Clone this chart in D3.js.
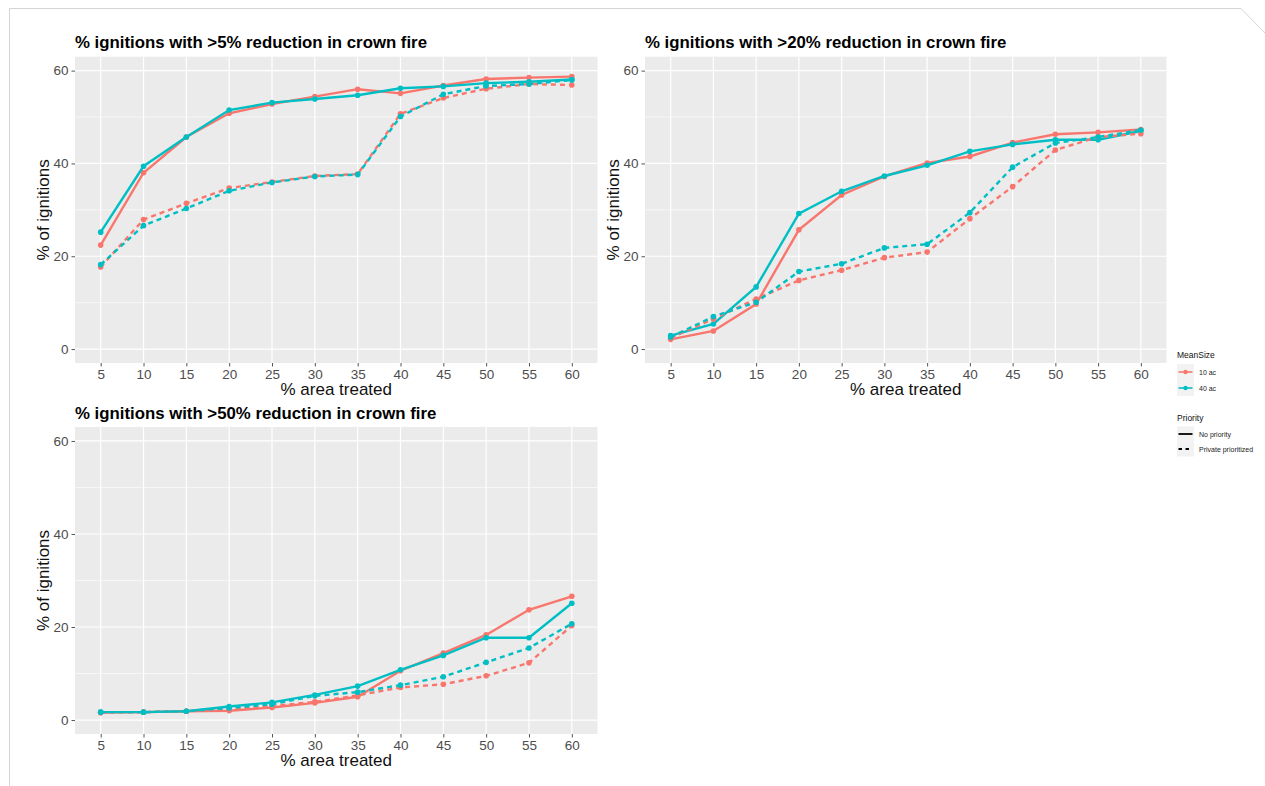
<!DOCTYPE html>
<html><head><meta charset="utf-8">
<script src="https://cdn.jsdelivr.net/npm/d3@7"></script>
<style>body{margin:0;background:#fff}svg{display:block}</style>
</head><body><svg id="c" width="1265" height="786"></svg>
<script>
// ---- data ----
const areaTreated = ["5","10","15","20","25","30","35","40","45","50","55","60"];
const yTicks = [0, 20, 40, 60];
const sizeLevels = ["10 ac", "40 ac"];
const priorityLevels = ["No priority", "Private prioritized"];
const panelTitles = [
  "% ignitions with >5% reduction in crown fire",
  "% ignitions with >20% reduction in crown fire",
  "% ignitions with >50% reduction in crown fire"
];
// panel 1 (>5%)
const p5_10ac_none = [22.4, 38.0, 45.7, 50.8, 52.8, 54.4, 56.0, 55.1, 56.8, 58.2, 58.5, 58.7];
const p5_40ac_none = [25.2, 39.4, 45.7, 51.5, 53.1, 53.9, 54.7, 56.2, 56.6, 57.3, 57.6, 58.1];
const p5_10ac_priv = [17.7, 27.9, 31.4, 34.7, 36.0, 37.3, 37.7, 50.7, 54.1, 56.1, 57.1, 56.9];
const p5_40ac_priv = [18.2, 26.6, 30.3, 34.1, 35.9, 37.2, 37.6, 50.1, 54.9, 56.7, 57.1, 58.0];
// panel 2 (>20%)
const p20_10ac_none = [2.1, 3.9, 9.7, 25.7, 33.2, 37.2, 40.1, 41.5, 44.5, 46.3, 46.7, 47.3];
const p20_40ac_none = [2.9, 5.4, 13.4, 29.2, 34.0, 37.3, 39.6, 42.6, 44.1, 45.1, 45.1, 47.0];
const p20_10ac_priv = [2.4, 6.5, 10.8, 14.8, 17.0, 19.7, 20.9, 28.1, 35.0, 42.9, 45.7, 46.4];
const p20_40ac_priv = [2.6, 7.0, 10.1, 16.7, 18.4, 21.8, 22.6, 29.4, 39.2, 44.4, 45.7, 47.2];
// panel 3 (>50%)
const p50_10ac_none = [1.6, 1.7, 1.9, 2.0, 2.7, 3.7, 5.0, 10.6, 14.4, 18.3, 23.7, 26.6];
const p50_40ac_none = [1.7, 1.7, 1.9, 2.9, 3.8, 5.4, 7.3, 10.8, 13.9, 17.7, 17.7, 25.1];
const p50_10ac_priv = [1.6, 1.7, 1.9, 2.3, 3.0, 3.9, 5.3, 7.0, 7.7, 9.5, 12.3, 20.3];
const p50_40ac_priv = [1.7, 1.7, 1.9, 2.6, 3.4, 5.2, 6.0, 7.5, 9.3, 12.4, 15.5, 20.7];

const panelSeries = [
  [p5_10ac_none, p5_40ac_none, p5_10ac_priv, p5_40ac_priv],
  [p20_10ac_none, p20_40ac_none, p20_10ac_priv, p20_40ac_priv],
  [p50_10ac_none, p50_40ac_none, p50_10ac_priv, p50_40ac_priv]
];

// ---- styles / layout ----
const colors = d3.scaleOrdinal().domain(sizeLevels).range(["#F8766D", "#00BFC4"]);
const dashes = d3.scaleOrdinal().domain(priorityLevels).range([null, "5,4"]);
const FONT = "'Liberation Sans', Arial, Helvetica, sans-serif";
const panels = [
  {x0: 75, x1: 597.5, y0: 56.7, y1: 363},
  {x0: 645, x1: 1166.5, y0: 56.7, y1: 363},
  {x0: 75, x1: 597.5, y0: 427, y1: 734}
];

const svg = d3.select("#c");
svg.append("rect").attr("width", 1265).attr("height", 786).attr("fill", "#fff");
// frame
svg.append("path").attr("d", "M9.5,786 L9.5,8.5 L1241,8.5 L1265,33")
  .attr("fill", "none").attr("stroke", "#d4d4d4").attr("stroke-width", 1);

panels.forEach((p, pi) => {
  const g = svg.append("g");
  const x = d3.scalePoint().domain(areaTreated).range([p.x0, p.x1]).padding(0.6);
  const y = d3.scaleLinear().domain([-3, 63]).range([p.y1, p.y0]);

  g.append("rect").attr("x", p.x0).attr("y", p.y0)
    .attr("width", p.x1 - p.x0).attr("height", p.y1 - p.y0).attr("fill", "#EBEBEB");
  // minor grid
  [10, 30, 50].forEach(v => g.append("line")
    .attr("x1", p.x0).attr("x2", p.x1).attr("y1", y(v)).attr("y2", y(v))
    .attr("stroke", "#fff").attr("stroke-width", 0.6));
  // major grid
  yTicks.forEach(v => g.append("line")
    .attr("x1", p.x0).attr("x2", p.x1).attr("y1", y(v)).attr("y2", y(v))
    .attr("stroke", "#fff").attr("stroke-width", 1.2));
  areaTreated.forEach(c => g.append("line")
    .attr("x1", x(c)).attr("x2", x(c)).attr("y1", p.y0).attr("y2", p.y1)
    .attr("stroke", "#fff").attr("stroke-width", 1.2));

  // axes
  const ax = g.append("g").attr("transform", `translate(0,${p.y1})`)
    .call(d3.axisBottom(x).tickSize(3.5).tickPadding(2.5));
  const ay = g.append("g").attr("transform", `translate(${p.x0},0)`)
    .call(d3.axisLeft(y).tickValues(yTicks).tickSize(3.5).tickPadding(3));
  [ax, ay].forEach(a => {
    a.select(".domain").remove();
    a.selectAll(".tick line").attr("stroke", "#555");
    a.selectAll(".tick text").attr("fill", "#4D4D4D")
      .style("font-family", FONT).style("font-size", "13.5px");
  });

  // axis titles
  g.append("text").attr("x", (p.x0 + p.x1) / 2).attr("y", p.y1 + 32)
    .attr("text-anchor", "middle").style("font-family", FONT).style("font-size", "17px")
    .attr("fill", "#111").text("% area treated");
  g.append("text")
    .attr("transform", `translate(${p.x0 - 26},${(p.y0 + p.y1) / 2}) rotate(-90)`)
    .attr("text-anchor", "middle").style("font-family", FONT).style("font-size", "17px")
    .attr("fill", "#111").text("% of ignitions");
  // title
  g.append("text").attr("x", p.x0).attr("y", p.y0 - 8.5)
    .style("font-family", FONT).style("font-size", "16.8px").style("font-weight", "bold")
    .attr("fill", "#000").text(panelTitles[pi]);

  // series
  const combos = [
    {size: sizeLevels[0], pr: priorityLevels[0]},
    {size: sizeLevels[1], pr: priorityLevels[0]},
    {size: sizeLevels[0], pr: priorityLevels[1]},
    {size: sizeLevels[1], pr: priorityLevels[1]}
  ];
  const line = d3.line().x((d, i) => x(areaTreated[i])).y(d => y(d));
  combos.forEach((cb, si) => {
    const vals = panelSeries[pi][si];
    g.append("path").datum(vals).attr("d", line).attr("fill", "none")
      .attr("stroke", colors(cb.size)).attr("stroke-width", 2.4)
      .attr("stroke-dasharray", dashes(cb.pr));
    g.selectAll(null).data(vals).enter().append("circle")
      .attr("cx", (d, i) => x(areaTreated[i])).attr("cy", d => y(d)).attr("r", 2.8)
      .attr("fill", colors(cb.size));
  });
});

// ---- legend ----
const lg = svg.append("g").style("font-family", FONT);
const lx = 1177;
lg.append("text").attr("x", lx).attr("y", 358).style("font-size", "8.5px").attr("fill", "#111").text("MeanSize");
sizeLevels.forEach((s, i) => {
  const yy = 372 + i * 16;
  lg.append("rect").attr("x", lx).attr("y", yy - 8).attr("width", 17).attr("height", 16).attr("fill", "#F2F2F2");
  lg.append("line").attr("x1", lx + 1.5).attr("x2", lx + 15.5).attr("y1", yy).attr("y2", yy)
    .attr("stroke", colors(s)).attr("stroke-width", 1.6);
  lg.append("circle").attr("cx", lx + 8.5).attr("cy", yy).attr("r", 2.2).attr("fill", colors(s));
  lg.append("text").attr("x", lx + 22).attr("y", yy + 2.7).style("font-size", "7px").attr("fill", "#222").text(s);
});
lg.append("text").attr("x", lx).attr("y", 421).style("font-size", "8.5px").attr("fill", "#111").text("Priority");
priorityLevels.forEach((s, i) => {
  const yy = 434 + i * 15;
  lg.append("rect").attr("x", lx).attr("y", yy - 7.5).attr("width", 17).attr("height", 15).attr("fill", "#F2F2F2");
  lg.append("line").attr("x1", lx + 1.5).attr("x2", lx + 15.5).attr("y1", yy).attr("y2", yy)
    .attr("stroke", "#000").attr("stroke-width", 1.8).attr("stroke-dasharray", i ? "3.5,3.5" : null);
  lg.append("text").attr("x", lx + 22).attr("y", yy + 2.7).style("font-size", "7px").attr("fill", "#222").text(s);
});
</script></body></html>
